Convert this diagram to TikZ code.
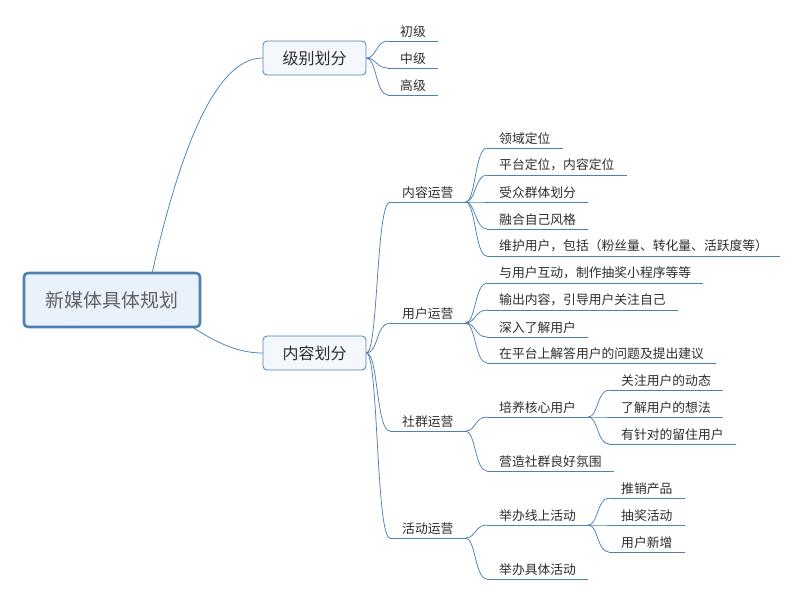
\documentclass[tikz,border=0pt]{standalone}
\usepackage{fontspec}
\setmainfont{Noto Sans CJK SC}
\definecolor{linkblue}{RGB}{76,128,178}
\definecolor{rootfill}{RGB}{233,241,251}
\definecolor{boxfill}{RGB}{244,248,253}
\definecolor{inkgrey}{RGB}{45,45,45}
\begin{document}
\begin{tikzpicture}[x=1pt,y=-1pt,
	root/.style={draw=linkblue, line width=2.6pt, rounded corners=4pt, fill=rootfill,
		minimum width=176pt, minimum height=54pt, text=black!62, font=\fontsize{18.9}{21}\selectfont},
	branch/.style={draw=linkblue, line width=0.8pt, rounded corners=4pt, fill=boxfill,
		minimum width=103pt, minimum height=34pt, text=inkgrey, font=\fontsize{16}{18}\selectfont},
	leaf/.style={anchor=south west, inner xsep=12pt, inner ysep=3.5pt, text=inkgrey,
		font=\fontsize{12.8}{14}\selectfont,
		append after command={(\tikzlastnode.south west) edge[underline] (\tikzlastnode.south east)}},
	underline/.style={draw=linkblue, line width=0.8pt},
	link/.style={draw=linkblue, line width=0.75pt}]
			\useasboundingbox (0,0) rectangle (800,600);
			% main boxes
			\node[root] (plan) at (112,300) {新媒体具体规划};
			\node[branch] (level) at (314.5,58) {级别划分};
			\node[branch] (content) at (314.5,353) {内容划分};
			% levels
			\node[leaf] (lv1) at (388,41) {初级};
			\node[leaf] (lv2) at (388,68) {中级};
			\node[leaf] (lv3) at (388,95) {高级};
			% content branches
			\node[leaf] (ops1) at (390,202) {内容运营};
			\node[leaf] (ops2) at (390,323) {用户运营};
			\node[leaf] (ops3) at (390,431) {社群运营};
			\node[leaf] (ops4) at (390,538) {活动运营};
			% content operation
			\node[leaf] (con1) at (487,148) {领域定位};
			\node[leaf] (con2) at (487,175) {平台定位，内容定位};
			\node[leaf] (con3) at (487,202) {受众群体划分};
			\node[leaf] (con4) at (487,229) {融合自己风格};
			\node[leaf] (con5) at (487,256) {维护用户，包括（粉丝量、转化量、活跃度等）};
			% user operation
			\node[leaf] (usr1) at (487,283) {与用户互动，制作抽奖小程序等等};
			\node[leaf] (usr2) at (487,310) {输出内容，引导用户关注自己};
			\node[leaf] (usr3) at (487,337) {深入了解用户};
			\node[leaf] (usr4) at (487,363) {在平台上解答用户的问题及提出建议};
			% community operation
			\node[leaf] (com1) at (487,417) {培养核心用户};
			\node[leaf] (com2) at (487,471) {营造社群良好氛围};
			\node[leaf] (core1) at (609,390) {关注用户的动态};
			\node[leaf] (core2) at (609,417) {了解用户的想法};
			\node[leaf] (core3) at (609,444) {有针对的留住用户};
			% activity operation
			\node[leaf] (act1) at (487,525) {举办线上活动};
			\node[leaf] (act2) at (487,579) {举办具体活动};
			\node[leaf] (onl1) at (609,498) {推销产品};
			\node[leaf] (onl2) at (609,525) {抽奖活动};
			\node[leaf] (onl3) at (609,552) {用户新增};
			% connectors
			\draw[link] (plan.35) .. controls +(25,-110) and +(-50,0) .. (level.west);
			\draw[link] (plan.-19) .. controls +(22,14) and +(-25,0) .. (content.west);
			\draw[link] (level.east) .. controls +(10,0) and +(-12,0) .. (lv1.south west);
			\draw[link] (level.east) .. controls +(10,0) and +(-12,0) .. (lv2.south west);
			\draw[link] (level.east) .. controls +(10,0) and +(-12,0) .. (lv3.south west);
			\draw[link] (content.east) .. controls +(12,0) and +(-14,0) .. (ops1.south west);
			\draw[link] (content.east) .. controls +(12,0) and +(-14,0) .. (ops2.south west);
			\draw[link] (content.east) .. controls +(12,0) and +(-14,0) .. (ops3.south west);
			\draw[link] (content.east) .. controls +(12,0) and +(-14,0) .. (ops4.south west);
			\draw[link] (ops1.south east) .. controls +(10,0) and +(-12,0) .. (con1.south west);
			\draw[link] (ops1.south east) .. controls +(10,0) and +(-12,0) .. (con2.south west);
			\draw[link] (ops1.south east) .. controls +(10,0) and +(-12,0) .. (con3.south west);
			\draw[link] (ops1.south east) .. controls +(10,0) and +(-12,0) .. (con4.south west);
			\draw[link] (ops1.south east) .. controls +(10,0) and +(-12,0) .. (con5.south west);
			\draw[link] (ops2.south east) .. controls +(10,0) and +(-12,0) .. (usr1.south west);
			\draw[link] (ops2.south east) .. controls +(10,0) and +(-12,0) .. (usr2.south west);
			\draw[link] (ops2.south east) .. controls +(10,0) and +(-12,0) .. (usr3.south west);
			\draw[link] (ops2.south east) .. controls +(10,0) and +(-12,0) .. (usr4.south west);
			\draw[link] (ops3.south east) .. controls +(10,0) and +(-12,0) .. (com1.south west);
			\draw[link] (ops3.south east) .. controls +(10,0) and +(-12,0) .. (com2.south west);
			\draw[link] (com1.south east) .. controls +(10,0) and +(-12,0) .. (core1.south west);
			\draw[link] (com1.south east) .. controls +(10,0) and +(-12,0) .. (core2.south west);
			\draw[link] (com1.south east) .. controls +(10,0) and +(-12,0) .. (core3.south west);
			\draw[link] (ops4.south east) .. controls +(10,0) and +(-12,0) .. (act1.south west);
			\draw[link] (ops4.south east) .. controls +(10,0) and +(-12,0) .. (act2.south west);
			\draw[link] (act1.south east) .. controls +(10,0) and +(-12,0) .. (onl1.south west);
			\draw[link] (act1.south east) .. controls +(10,0) and +(-12,0) .. (onl2.south west);
			\draw[link] (act1.south east) .. controls +(10,0) and +(-12,0) .. (onl3.south west);
\end{tikzpicture}
\end{document}
